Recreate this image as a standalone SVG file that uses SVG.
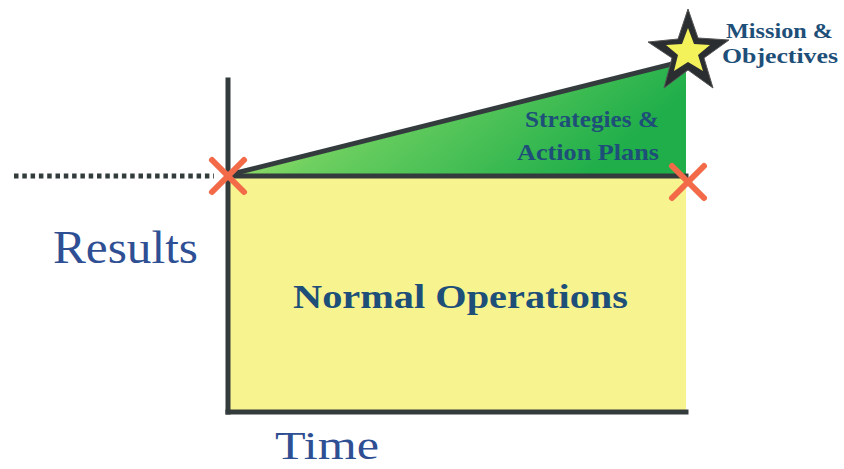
<svg xmlns="http://www.w3.org/2000/svg" width="844" height="469" viewBox="0 0 844 469">
<style>
.axis{stroke:#333b3d;stroke-width:5;fill:none;stroke-linecap:square}
.cross{stroke:#f26a48;stroke-width:6;stroke-linecap:round}
.lbl{font-family:"Liberation Serif",serif;fill:#2f4f94}
.bold{font-family:"Liberation Serif",serif;font-weight:bold;fill:#1e4f78}
</style>
<defs>
<linearGradient id="g" x1="0" y1="0" x2="1" y2="0.3">
<stop offset="0" stop-color="#d6f070"/>
<stop offset="0.4" stop-color="#6fd060"/>
<stop offset="1" stop-color="#1fae4a"/>
</linearGradient>
</defs>
<rect width="844" height="469" fill="#ffffff"/>
<g id="normal-ops">
<rect x="230" y="176" width="456" height="235" fill="#f7f48f"/>
<text class="bold" x="293" y="308" font-size="34" textLength="335" lengthAdjust="spacingAndGlyphs">Normal Operations</text>
</g>
<g id="strategies">
<polygon points="232,176 686,62 686,176" fill="url(#g)"/>
<text class="bold" x="525" y="127" font-size="23" textLength="134" lengthAdjust="spacingAndGlyphs">Strategies &amp;</text>
<text class="bold" x="517" y="160" font-size="23" textLength="142" lengthAdjust="spacingAndGlyphs">Action Plans</text>
</g>
<g id="connectors">
<line class="axis" x1="228" y1="80" x2="228" y2="412"/>
<line class="axis" x1="228" y1="412" x2="686" y2="412"/>
<line class="axis" x1="228" y1="176" x2="686" y2="176"/>
<line class="axis" x1="232" y1="174" x2="680" y2="62"/>
<line x1="14" y1="176" x2="214" y2="176" stroke="#333b3d" stroke-width="5" stroke-dasharray="4.5 3.8"/>
</g>
<g id="cross-left">
<line class="cross" x1="212" y1="160" x2="244" y2="192"/>
<line class="cross" x1="244" y1="160" x2="212" y2="192"/>
</g>
<g id="cross-right">
<line class="cross" x1="672" y1="166" x2="704" y2="198"/>
<line class="cross" x1="704" y1="166" x2="672" y2="198"/>
</g>
<g id="mission">
<polygon points="688,9 698,38 729,40 704,58 713,88 688,70 664,88 672,58 648,42 678,39" fill="#2b2e30" stroke="#555" stroke-width="1"/>
<polygon points="688,28 694,44 710,45 698,55 703,71 688,62 674,71 678,55 666,45 682,44" fill="#f3f25a"/>
<text class="bold" x="726" y="38" font-size="21" textLength="107" lengthAdjust="spacingAndGlyphs">Mission &amp;</text>
<text class="bold" x="722" y="63" font-size="21" textLength="116" lengthAdjust="spacingAndGlyphs">Objectives</text>
</g>
<g id="labels">
<text class="lbl" x="53" y="263" font-size="46" textLength="145" lengthAdjust="spacingAndGlyphs">Results</text>
<text class="lbl" x="275" y="459" font-size="41" textLength="104" lengthAdjust="spacingAndGlyphs">Time</text>
</g>
</svg>
